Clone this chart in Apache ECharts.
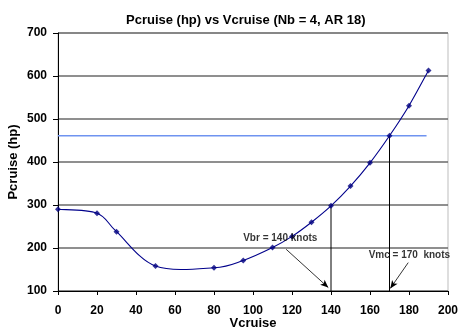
<!DOCTYPE html>
<html>
<head>
<meta charset="utf-8">
<script src="https://cdn.jsdelivr.net/npm/echarts@6/dist/echarts.min.js"></script>
<style>
  html, body { margin: 0; padding: 0; background: #fff; }
  #chart { width: 459px; height: 333px; }
</style>
</head>
<body>
<div id="chart"></div>
<script>
// Cruise power required vs cruise speed
const vcruise = [0, 20, 30, 50, 80, 95, 110, 120, 130, 140, 150, 160, 170, 180, 190];
const pcruise = [290, 281, 238, 158, 154, 171, 201, 227, 260, 298, 344, 398, 461, 531, 613];

// Available cruise power level
const availPower = 461;
const availRange = [0, 189];

// Characteristic speeds (knots)
const vbr = 140;
const vmc = 170;

// Callout positions [speed, power]: text anchor, arrow start, arrow end
const vbrText = 'Vbr = 140 knots';
const vmcText = 'Vmc = 170  knots';
const vbrLabelPos = [114, 222];
const vmcLabelPos = [180.2, 182];
const vbrArrow = [[117, 197], [138.6, 108]];
const vmcArrow = [[179.6, 166], [170.4, 106]];

const yMin = 100, yMax = 700, yStep = 100;
const xMin = 0, xMax = 200, xStep = 20;

const FONT = 'Liberation Sans, Arial, sans-serif';
const powerAt = v => pcruise[vcruise.indexOf(v)];
const points = vcruise.map((v, i) => [v, pcruise[i]]);

// One Catmull-Rom style bezier segment per data point (segment i -> i+1),
// placed through the cartesian scales with api.coord.
function renderCurveSegment(params, api) {
  const i = params.dataIndex;
  if (i >= points.length - 1) return null;
  const P = k => api.coord(points[Math.max(0, Math.min(points.length - 1, k))]);
  const p0 = P(i - 1), p1 = P(i), p2 = P(i + 1), p3 = P(i + 2);
  const c1 = [p1[0] + (p2[0] - p0[0]) / 6, p1[1] + (p2[1] - p0[1]) / 6];
  const c2 = [p2[0] - (p3[0] - p1[0]) / 6, p2[1] - (p3[1] - p1[1]) / 6];
  return {
    type: 'bezierCurve',
    shape: { x1: p1[0], y1: p1[1], cpx1: c1[0], cpy1: c1[1], cpx2: c2[0], cpy2: c2[1], x2: p2[0], y2: p2[1] },
    style: { stroke: '#00008b', lineWidth: 1.1, fill: null }
  };
}

const chart = echarts.init(document.getElementById('chart'), null, { renderer: 'canvas' });

chart.setOption({
  animation: false,
  backgroundColor: '#ffffff',
  title: {
    text: 'Pcruise (hp) vs Vcruise (Nb = 4, AR 18)',
    left: 121,
    top: 9,
    textStyle: { fontFamily: FONT, fontSize: 13, fontWeight: 'bold', color: '#000' }
  },
  grid: {
    left: 58, right: 11, top: 33, bottom: 42,
    outerBoundsMode: 'none',
    containLabel: false,
    show: true, borderColor: '#bdbdbd', borderWidth: 1
  },
  xAxis: {
    type: 'value',
    min: xMin, max: xMax, interval: xStep,
    name: 'Vcruise',
    nameLocation: 'middle',
    nameGap: 26,
    nameMoveOverlap: false,
    nameTextStyle: { fontFamily: FONT, fontSize: 13, fontWeight: 'bold', color: '#000' },
    axisLine: { lineStyle: { color: '#000', width: 1 } },
    axisTick: { show: true, inside: false, length: 4, lineStyle: { color: '#000' } },
    axisLabel: { margin: 14, fontFamily: FONT, fontSize: 12, fontWeight: 'bold', color: '#000' },
    splitLine: { show: false }
  },
  yAxis: {
    type: 'value',
    min: yMin, max: yMax, interval: yStep,
    name: 'Pcruise (hp)',
    nameLocation: 'middle',
    nameGap: 38,
    nameMoveOverlap: false,
    nameRotate: 90,
    nameTextStyle: { fontFamily: FONT, fontSize: 13, fontWeight: 'bold', color: '#000' },
    axisLine: { show: true, lineStyle: { color: '#000', width: 1 } },
    axisTick: { show: true, inside: false, length: 5, lineStyle: { color: '#000' } },
    axisLabel: { margin: 11, fontFamily: FONT, fontSize: 12, fontWeight: 'bold', color: '#000' },
    splitLine: { show: true, lineStyle: { color: '#6a6a6a', width: 1.5 } }
  },
  series: [
    {
      name: 'Available power',
      type: 'line',
      data: availRange.map(v => [v, availPower]),
      symbol: 'none',
      lineStyle: { color: '#6f93f0', width: 1.5 },
      z: 2
    },
    {
      name: 'Vbr drop',
      type: 'line',
      data: [[vbr, powerAt(vbr)], [vbr, yMin]],
      symbol: 'none',
      lineStyle: { color: '#000', width: 1 },
      z: 3
    },
    {
      name: 'Vmc drop',
      type: 'line',
      data: [[vmc, powerAt(vmc)], [vmc, yMin]],
      symbol: 'none',
      lineStyle: { color: '#000', width: 1 },
      z: 3
    },
    {
      name: 'Pcruise curve',
      type: 'custom',
      renderItem: renderCurveSegment,
      data: points,
      silent: true,
      z: 4
    },
    {
      name: 'Pcruise',
      type: 'scatter',
      data: points,
      symbol: 'diamond',
      symbolSize: 6,
      itemStyle: { color: '#000080' },
      z: 5
    },
    {
      name: 'Callouts',
      type: 'scatter',
      symbol: 'circle',
      symbolSize: 1,
      silent: true,
      itemStyle: { color: 'rgba(0,0,0,0)' },
      data: [
        { value: vbrLabelPos, label: { formatter: vbrText } },
        { value: vmcLabelPos, label: { formatter: vmcText } }
      ],
      label: {
        show: true,
        position: 'inside',
        fontFamily: FONT, fontSize: 10, fontWeight: 'bold', color: '#000'
      },
      labelLayout: { hideOverlap: false },
      markLine: {
        silent: true,
        symbol: ['none', 'arrow'],
        symbolSize: [5, 8],
        label: { show: false },
        lineStyle: { color: '#000', width: 0.8, type: 'solid' },
        data: [
          [{ coord: vbrArrow[0] }, { coord: vbrArrow[1] }],
          [{ coord: vmcArrow[0] }, { coord: vmcArrow[1] }]
        ]
      },
      z: 6
    }
  ]
});
</script>
</body>
</html>
